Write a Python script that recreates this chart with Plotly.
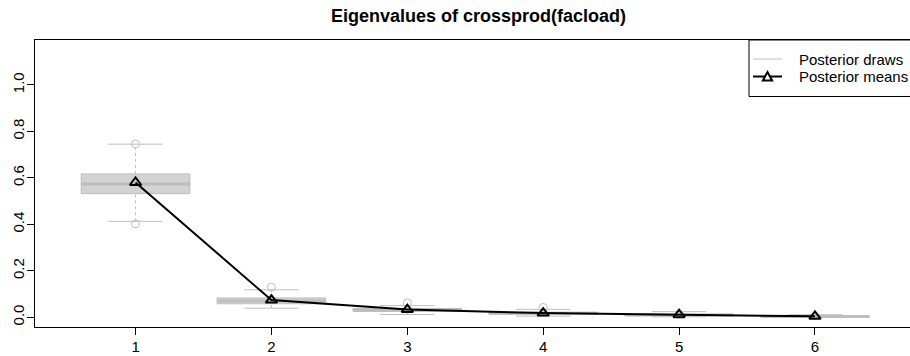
import plotly.graph_objects as go

# Posterior summaries of the eigenvalues of crossprod(facload)
categories = [1, 2, 3, 4, 5, 6]
q1 = [0.532, 0.058, 0.025, 0.013, 0.007, 0.001]
median = [0.574, 0.070, 0.031, 0.017, 0.010, 0.003]
q3 = [0.617, 0.083, 0.038, 0.021, 0.013, 0.006]
whisker_low = [0.413, 0.039, 0.012, 0.005, 0.002, 0.000]
whisker_high = [0.745, 0.118, 0.050, 0.034, 0.024, 0.011]
outlier_x = [1, 1, 2, 3, 4]
outlier_y = [0.402, 0.746, 0.129, 0.062, 0.042]
posterior_means = [0.580, 0.074, 0.033, 0.018, 0.011, 0.004]

y_ticks = [0.0, 0.2, 0.4, 0.6, 0.8, 1.0]
y_tick_labels = ["0.0", "0.2", "0.4", "0.6", "0.8", "1.0"]
x_tick_labels = ["1", "2", "3", "4", "5", "6"]

title_text = "Eigenvalues of crossprod(facload)"
legend_labels = ["Posterior draws", "Posterior means"]

# figure geometry (pixels)
W, H = 910, 356
ML, MR, MT, MB = 35, 0, 40, 29
PW, PH = W - ML - MR, H - MT - MB

BOX_FILL = "#D3D3D3"
BOX_LINE = "#BEBEBE"
FONT = "Liberation Sans, Arial, Helvetica, sans-serif"

half_box = 0.4
half_staple = 0.2

fig = go.Figure()

# boxes
for c, lo, hi in zip(categories, q1, q3):
    fig.add_trace(go.Scatter(
        x=[c - half_box, c + half_box, c + half_box, c - half_box, c - half_box],
        y=[lo, lo, hi, hi, lo],
        mode="lines", fill="toself", fillcolor=BOX_FILL,
        line=dict(color=BOX_LINE, width=1),
        hoverinfo="skip", showlegend=False))

# dashed whiskers
wx, wy = [], []
for c, lo, b_lo, b_hi, hi in zip(categories, whisker_low, q1, q3, whisker_high):
    wx += [c, c, None, c, c, None]
    wy += [lo, b_lo, None, b_hi, hi, None]
fig.add_trace(go.Scatter(x=wx, y=wy, mode="lines",
                         line=dict(color=BOX_LINE, width=1, dash="3px,3px"),
                         hoverinfo="skip", showlegend=False))

# staples
sx, sy = [], []
for c, lo, hi in zip(categories, whisker_low, whisker_high):
    sx += [c - half_staple, c + half_staple, None, c - half_staple, c + half_staple, None]
    sy += [lo, lo, None, hi, hi, None]
fig.add_trace(go.Scatter(x=sx, y=sy, mode="lines",
                         line=dict(color=BOX_LINE, width=1),
                         hoverinfo="skip", showlegend=False))

# medians
mx, my = [], []
for c, m in zip(categories, median):
    mx += [c - half_box, c + half_box, None]
    my += [m, m, None]
fig.add_trace(go.Scatter(x=mx, y=my, mode="lines",
                         line=dict(color="#BDBDBD", width=3),
                         hoverinfo="skip", showlegend=False))

# outlying draws
fig.add_trace(go.Scatter(x=outlier_x, y=outlier_y, mode="markers",
                         marker=dict(symbol="circle-open", size=8,
                                     color=BOX_LINE, line=dict(width=1)),
                         hoverinfo="skip", showlegend=False))

# posterior means
fig.add_trace(go.Scatter(x=categories, y=posterior_means, mode="lines+markers",
                         line=dict(color="black", width=2),
                         marker=dict(symbol="triangle-up-open", size=10,
                                     color="black", line=dict(width=2)),
                         hoverinfo="skip", showlegend=False))

# pixel -> paper helpers
def px(x):
    return (x - ML) / PW


def py(y):
    return (H - MB - y) / PH


shapes = []
annotations = []

# legend box
shapes.append(dict(type="rect", xref="paper", yref="paper",
                   x0=px(749), x1=px(912), y0=py(96.5), y1=py(40),
                   line=dict(color="black", width=1), fillcolor="white", layer="above"))
# legend samples
shapes.append(dict(type="line", xref="paper", yref="paper",
                   x0=px(753), x1=px(782), y0=py(59), y1=py(59),
                   line=dict(color=BOX_LINE, width=1), layer="above"))
shapes.append(dict(type="line", xref="paper", yref="paper",
                   x0=px(753), x1=px(782), y0=py(76.5), y1=py(76.5),
                   line=dict(color="black", width=2), layer="above"))
tx, ty, ts = 767.5, 76.5, 4.6
shapes.append(dict(type="path", xref="paper", yref="paper",
                   path=(f"M {px(tx - ts)} {py(ty + ts * 0.85)} "
                         f"L {px(tx + ts)} {py(ty + ts * 0.85)} "
                         f"L {px(tx)} {py(ty - ts * 0.95)} Z"),
                   line=dict(color="black", width=2), fillcolor="white", layer="above"))
for lbl, yy in zip(legend_labels, [59, 76.5]):
    annotations.append(dict(text=lbl, xref="paper", yref="paper",
                            x=px(797), y=py(yy), xanchor="left", yanchor="middle",
                            showarrow=False, font=dict(size=15, color="black", family=FONT)))

# title
annotations.append(dict(text=f"<b>{title_text}</b>", xref="paper", yref="paper",
                        x=px(478), y=py(16.5), xanchor="center", yanchor="middle",
                        showarrow=False, font=dict(size=18, color="black", family=FONT)))

fig.update_layout(
    width=W, height=H,
    margin=dict(l=ML, r=MR, t=MT, b=MB, pad=0),
    paper_bgcolor="white", plot_bgcolor="white",
    font=dict(family=FONT, size=15, color="black"),
    shapes=shapes, annotations=annotations,
    showlegend=False,
)

fig.update_xaxes(
    range=[0.26, 6.6995], tickmode="array", tickvals=categories, ticktext=x_tick_labels,
    showgrid=False, zeroline=False, showline=True, linecolor="black", linewidth=1,
    mirror=True, ticks="outside", ticklen=7, tickcolor="black", tickwidth=1,
    tickfont=dict(size=15, family=FONT), fixedrange=True, ticklabelstandoff=-1,
)
fig.update_yaxes(
    range=[-0.042, 1.1935], tickmode="array", tickvals=y_ticks, ticktext=y_tick_labels,
    tickangle=-90, showgrid=False, zeroline=False, showline=True, linecolor="black",
    linewidth=1, ticks="outside", ticklen=7, tickcolor="black", tickwidth=1,
    tickfont=dict(size=15, family=FONT), fixedrange=True, ticklabelstandoff=-3,
)

fig.write_html("out.html")
